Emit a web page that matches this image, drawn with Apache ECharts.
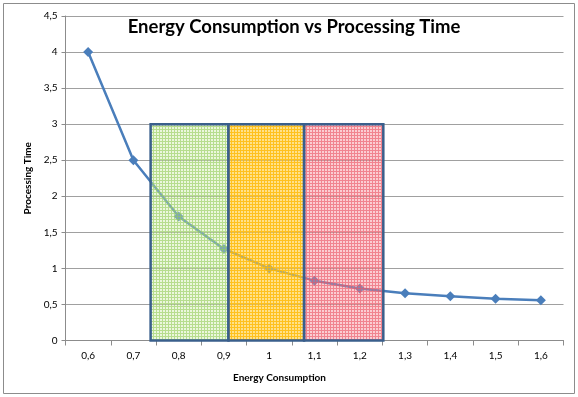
<!DOCTYPE html>
<html>
<head>
<meta charset="utf-8">
<script src="https://cdn.jsdelivr.net/npm/echarts@6/dist/echarts.min.js"></script>
<style>
  html, body { margin: 0; padding: 0; background: #fff; }
  #chart { width: 578px; height: 397px; }
</style>
</head>
<body>
<div id="chart"></div>
<script>
// Energy consumption (x) against processing time (y)
const energy = [0.6, 0.7, 0.8, 0.9, 1.0, 1.1, 1.2, 1.3, 1.4, 1.5, 1.6];
const processingTime = [4.0, 2.5, 1.72, 1.27, 1.0, 0.83, 0.72, 0.655, 0.613, 0.578, 0.558];
const xTickLabels = ['0,6', '0,7', '0,8', '0,9', '1', '1,1', '1,2', '1,3', '1,4', '1,5', '1,6'];

// Shaded zones: boundaries along the energy axis, common height
const zoneEdges = [0.738, 0.91, 1.077, 1.252];
const zoneTop = 3.0;
const zoneNames = ['green', 'yellow', 'red'];

// Small-grid pattern tiles for the zone fills
function gridTile(bg, line) {
  const c = document.createElement('canvas');
  c.width = 3; c.height = 3;
  const g = c.getContext('2d');
  g.fillStyle = bg;
  g.fillRect(0, 0, 3, 3);
  g.fillStyle = line;
  g.fillRect(0, 0, 3, 1);
  g.fillRect(0, 1, 1, 2);
  return c;
}
const tiles = {
  green: gridTile('rgba(205,235,170,0.4)', 'rgba(150,205,90,0.6)'),
  yellow: gridTile('rgba(255,205,60,0.6)', 'rgba(255,185,0,0.78)'),
  red: gridTile('rgba(245,135,148,0.42)', 'rgba(235,85,100,0.6)')
};

const zones = zoneNames.map((n, i) => [zoneEdges[i], zoneEdges[i + 1], i]);

const chart = echarts.init(document.getElementById('chart'), null, { renderer: 'canvas' });
const font = 'Lato, "Open Sans", sans-serif';

chart.setOption({
  animation: false,
  title: {
    text: 'Energy Consumption vs Processing Time',
    left: 289, top: 13, textAlign: 'center',
    textStyle: { fontFamily: font, fontSize: 18.5, fontWeight: 'bold', color: '#000' }
  },
  graphic: [{
    type: 'rect',
    shape: { x: 3.5, y: 3.5, width: 571, height: 390 },
    style: { fill: 'none', stroke: '#8c8c8c', lineWidth: 1 },
    silent: true, z: -1
  }],
  grid: { left: 65.5, right: 14.5, top: 16, bottom: 56.5 },
  xAxis: [{
    type: 'category',
    data: xTickLabels,
    boundaryGap: true,
    name: 'Energy Consumption',
    nameLocation: 'middle',
    nameGap: 32,
    nameTextStyle: { fontFamily: font, fontSize: 10, fontWeight: 'bold', color: '#000', padding: [0, 70, 0, 0] },
    axisLine: { lineStyle: { color: '#8c8c8c', width: 1 } },
    axisTick: { show: true, interval: 0, length: 5, lineStyle: { color: '#8c8c8c' } },
    axisLabel: { fontFamily: font, fontSize: 10, color: '#000', margin: 10 },
    splitLine: { show: false }
  }, {
    type: 'value',
    min: 0.55, max: 1.65,
    show: false
  }],
  yAxis: {
    type: 'value',
    min: 0, max: 4.5, interval: 0.5,
    name: 'Processing Time',
    nameLocation: 'middle',
    nameGap: 27,
    nameTextStyle: { fontFamily: font, fontSize: 10, fontWeight: 'bold', color: '#000' },
    axisLine: { show: true, lineStyle: { color: '#8c8c8c', width: 1 } },
    axisTick: { show: true, length: 4, lineStyle: { color: '#8c8c8c' } },
    axisLabel: {
      fontFamily: font, fontSize: 10, color: '#000', margin: 8,
      formatter: v => String(v).replace('.', ',')
    },
    splitLine: { lineStyle: { color: '#a0a0a0', width: 1 } }
  },
  series: [{
    type: 'line',
    xAxisIndex: 1,
    data: energy.map((e, i) => [e, processingTime[i]]),
    symbol: 'diamond',
    symbolSize: 10,
    lineStyle: { color: '#4a7ebb', width: 2.5 },
    itemStyle: { color: '#4a7ebb' },
    z: 2
  }, {
    type: 'custom',
    xAxisIndex: 1,
    data: zones,
    z: 5,
    renderItem: function (params, api) {
      const p0 = api.coord([api.value(0), zoneTop]);
      const p1 = api.coord([api.value(1), 0]);
      const name = zoneNames[api.value(2)];
      const shape = { x: p0[0], y: p0[1], width: p1[0] - p0[0], height: p1[1] - p0[1] };
      return {
        type: 'group',
        children: [{
          type: 'rect', shape: shape,
          style: { fill: { image: tiles[name], repeat: 'repeat' } }
        }, {
          type: 'rect', shape: shape,
          style: { fill: 'none', stroke: '#3a5f8c', lineWidth: 2.5 }
        }]
      };
    }
  }]
});
</script>
</body>
</html>
